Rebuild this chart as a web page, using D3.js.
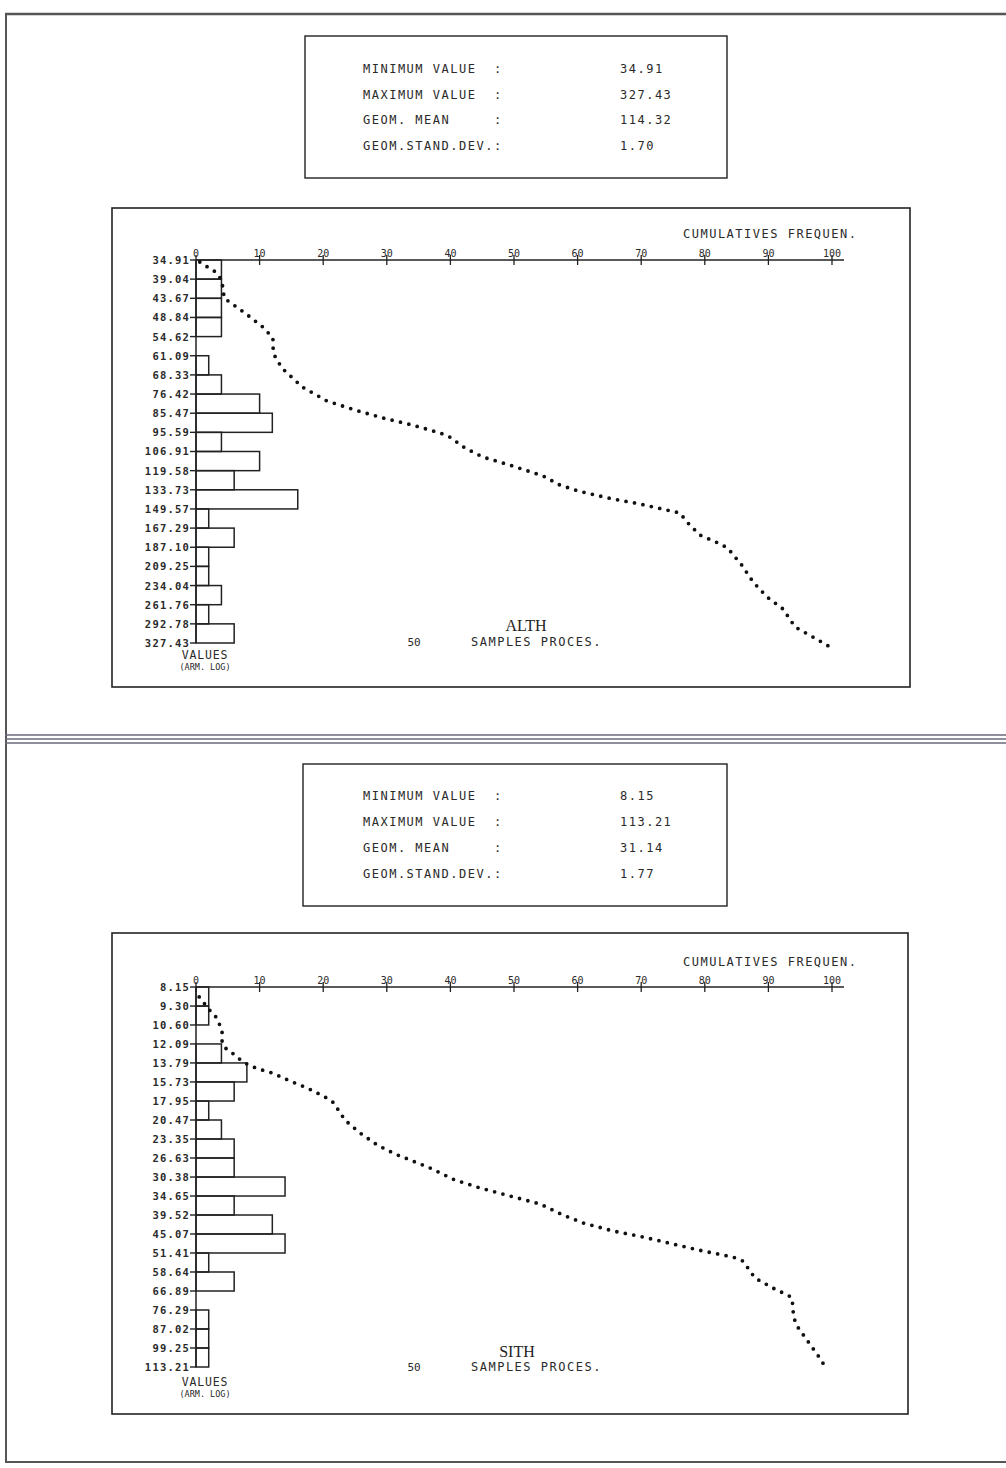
<!DOCTYPE html>
<html><head><meta charset="utf-8">
<script src="https://cdn.jsdelivr.net/npm/d3@7"></script>
<style>body{margin:0;background:#fff}</style>
</head><body>
<svg id="c" width="1006" height="1468"></svg>
<script>
// ---------- data ----------
const statLabels = ["MINIMUM VALUE", "MAXIMUM VALUE", "GEOM. MEAN", "GEOM.STAND.DEV."];
const althStats = ["34.91", "327.43", "114.32", "1.70"];
const sithStats = ["8.15", "113.21", "31.14", "1.77"];
const freqTicks = [0, 10, 20, 30, 40, 50, 60, 70, 80, 90, 100];
const sampleCount = 50;

const althClassLimits = [34.91, 39.04, 43.67, 48.84, 54.62, 61.09, 68.33, 76.42, 85.47, 95.59, 106.91, 119.58, 133.73, 149.57, 167.29, 187.10, 209.25, 234.04, 261.76, 292.78, 327.43];
const althCounts = [2, 2, 2, 2, 0, 1, 2, 5, 6, 2, 5, 3, 8, 1, 3, 1, 1, 2, 1, 3];
const althCumValues = [35.32, 35.95, 37.45, 39.01, 41.36, 43.59, 47.59, 51.64, 55.07, 58.05, 60.83, 65.63, 73.34, 79.59, 83.89, 87.90, 91.57, 95.96, 98.23, 104.75, 110.41, 116.37, 123.37, 130.04, 134.68, 140.30, 145.31, 153.15, 161.43, 174.17, 182.51, 187.92, 207.56, 229.25, 250.26, 268.44, 298.22, 316.16, 335.19];
const althCumPct = [0.6, 1.3, 3.1, 3.9, 4.3, 4.4, 7.7, 10.5, 12.1, 12.1, 12.3, 13.5, 16.7, 20.6, 25.0, 29.4, 34.0, 38.4, 39.9, 42.3, 45.1, 49.8, 54.6, 57.2, 60.1, 64.8, 69.8, 76.1, 77.2, 79.2, 82.1, 83.6, 85.8, 87.6, 89.8, 92.3, 94.2, 97.0, 99.7];

const sithClassLimits = [8.15, 9.30, 10.60, 12.09, 13.79, 15.73, 17.95, 20.47, 23.35, 26.63, 30.38, 34.65, 39.52, 45.07, 51.41, 58.64, 66.89, 76.29, 87.02, 99.25, 113.21];
const sithCounts = [1, 1, 0, 2, 4, 3, 1, 2, 3, 3, 7, 3, 6, 7, 1, 3, 0, 1, 1, 1];
const sithCumValues = [8.73, 9.76, 10.10, 11.05, 11.85, 12.43, 13.05, 13.70, 14.18, 14.48, 14.78, 15.63, 16.40, 17.46, 18.07, 19.37, 20.47, 22.40, 24.34, 25.90, 26.63, 28.54, 31.01, 32.78, 34.65, 36.62, 39.52, 41.77, 44.15, 46.02, 48.31, 50.70, 52.85, 54.34, 57.83, 61.13, 65.51, 69.72, 74.73, 79.53, 85.23, 95.88, 107.85, 114.79];
const sithCumPct = [0.5, 2.5, 3.3, 4.1, 4.1, 4.6, 6.1, 7.4, 9.0, 10.4, 12.0, 14.8, 17.5, 20.3, 21.5, 22.6, 23.4, 25.8, 28.5, 31.3, 32.9, 36.8, 40.7, 44.7, 49.4, 54.1, 57.7, 60.9, 65.6, 70.3, 75.0, 79.7, 84.4, 86.0, 87.0, 87.9, 90.7, 93.6, 93.9, 93.9, 94.5, 96.4, 98.3, 99.1];

// ---------- drawing ----------
const svg = d3.select("#c");
const INK = "#222";
const MONO = "'DejaVu Sans Mono', 'Liberation Mono', monospace";
svg.append("rect").attr("width", 1006).attr("height", 1468).attr("fill", "#fff");

// page frame (scan borders)
const pg = svg.append("g").attr("stroke", "#555").attr("fill", "none");
pg.append("line").attr("x1", 5).attr("x2", 1006).attr("y1", 14).attr("y2", 14).attr("stroke-width", 2.5);
pg.append("line").attr("x1", 6).attr("x2", 6).attr("y1", 13).attr("y2", 1463).attr("stroke-width", 2);
[735, 739, 743].forEach(y => pg.append("line").attr("x1", 5).attr("x2", 1006).attr("y1", y).attr("y2", y).attr("stroke-width", 1.4).attr("stroke", "#6a6a7a"));
pg.append("line").attr("x1", 5).attr("x2", 1006).attr("y1", 1462).attr("y2", 1462).attr("stroke-width", 2);

function panel(cfg) {
  const g = svg.append("g");
  // stats box
  g.append("rect").attr("x", cfg.box.x).attr("y", cfg.box.y).attr("width", cfg.box.w).attr("height", cfg.box.h)
    .attr("fill", "none").attr("stroke", INK).attr("stroke-width", 1.4);
  statLabels.forEach((lab, i) => {
    const y = cfg.statRows[i] + 4;
    const t = { "font-family": MONO, "font-size": "12px", "letter-spacing": "1.5px", fill: "#2a2a2a" };
    const a = g.append("text").attr("x", 363).attr("y", y).text(lab);
    const b = g.append("text").attr("x", 494).attr("y", y).text(":");
    const c = g.append("text").attr("x", 620).attr("y", y).text(cfg.stats[i]);
    [a, b, c].forEach(s => Object.entries(t).forEach(([k, v]) => s.attr(k, v)));
  });

  // chart frame
  g.append("rect").attr("x", cfg.frame.x).attr("y", cfg.frame.y).attr("width", cfg.frame.w).attr("height", cfg.frame.h)
    .attr("fill", "none").attr("stroke", INK).attr("stroke-width", 1.6);

  const lims = cfg.limits;
  const x = d3.scaleLinear().domain([0, 100]).range([196, 832]);
  const y = d3.scaleLog().domain([lims[0], lims[lims.length - 1]]).range([cfg.y0, cfg.y1]);
  const ay = cfg.y0;

  // top frequency axis
  g.append("line").attr("x1", x(0)).attr("x2", x(100) + 12).attr("y1", ay).attr("y2", ay)
    .attr("stroke", INK).attr("stroke-width", 1.5);
  freqTicks.forEach(t => {
    g.append("line").attr("x1", x(t)).attr("x2", x(t)).attr("y1", ay - 5).attr("y2", ay + 5)
      .attr("stroke", INK).attr("stroke-width", 1.3);
    g.append("text").attr("x", x(t)).attr("y", ay - 3).attr("text-anchor", "middle")
      .attr("font-family", MONO).attr("font-size", "10px").attr("fill", "#2a2a2a").text(t);
  });
  g.append("text").attr("x", 683).attr("y", cfg.cumLabelY).attr("font-family", MONO).attr("font-size", "12px")
    .attr("letter-spacing", "1.5px").attr("fill", "#2a2a2a").text("CUMULATIVES FREQUEN.");

  // histogram bars
  cfg.counts.forEach((c, i) => {
    if (c <= 0) return;
    g.append("rect").attr("x", x(0)).attr("y", y(lims[i]))
      .attr("width", x(c * 100 / sampleCount) - x(0)).attr("height", y(lims[i + 1]) - y(lims[i]))
      .attr("fill", "none").attr("stroke", INK).attr("stroke-width", 1.5);
  });
  // value axis
  g.append("line").attr("x1", x(0)).attr("x2", x(0)).attr("y1", ay).attr("y2", y(lims[lims.length - 1]))
    .attr("stroke", INK).attr("stroke-width", 1.5);
  const fmt = d3.format(".2f");
  lims.forEach(v => {
    g.append("line").attr("x1", x(0) - 6).attr("x2", x(0)).attr("y1", y(v)).attr("y2", y(v))
      .attr("stroke", INK).attr("stroke-width", 1.4);
    g.append("text").attr("x", x(0) - 6).attr("y", y(v) + 4).attr("text-anchor", "end")
      .attr("font-family", MONO).attr("font-size", "10.5px").attr("font-weight", "bold").attr("letter-spacing", "1.2px")
      .attr("fill", "#2a2a2a").text(fmt(v));
  });

  // cumulative frequency curve (dotted)
  const pts = cfg.cumValues.map((v, i) => [cfg.cumPct[i], v]);
  const line = d3.line().x(d => x(d[0])).y(d => y(d[1]));
  g.append("path").attr("d", line(pts)).attr("fill", "none").attr("stroke", "#111")
    .attr("stroke-width", 3.8).attr("stroke-linecap", "round").attr("stroke-dasharray", "0 8.6");

  // bottom texts
  g.append("text").attr("x", 205).attr("y", cfg.valuesY).attr("text-anchor", "middle")
    .attr("font-family", MONO).attr("font-size", "11.5px").attr("letter-spacing", "0.8px").attr("fill", "#2a2a2a").text("VALUES");
  g.append("text").attr("x", 205).attr("y", cfg.valuesY + 11).attr("text-anchor", "middle")
    .attr("font-family", MONO).attr("font-size", "8.5px").attr("fill", "#2a2a2a").text("(ARM. LOG)");
  g.append("text").attr("x", cfg.titleX).attr("y", cfg.titleY).attr("text-anchor", "middle")
    .attr("font-family", "'Liberation Serif', 'DejaVu Serif', serif").attr("font-size", "16px").attr("fill", "#222").text(cfg.title);
  g.append("text").attr("x", 414).attr("y", cfg.samplesY).attr("text-anchor", "middle")
    .attr("font-family", MONO).attr("font-size", "11px").attr("fill", "#2a2a2a").text(sampleCount);
  g.append("text").attr("x", 471).attr("y", cfg.samplesY).attr("font-family", MONO).attr("font-size", "12px")
    .attr("letter-spacing", "1.5px").attr("fill", "#2a2a2a").text("SAMPLES PROCES.");
}

panel({
  box: { x: 305, y: 36, w: 422, h: 142 }, statRows: [69, 95, 120, 146], stats: althStats,
  frame: { x: 112, y: 208, w: 798, h: 479 },
  limits: althClassLimits, counts: althCounts, cumValues: althCumValues, cumPct: althCumPct,
  y0: 260, y1: 643, cumLabelY: 238, title: "ALTH", titleX: 526, titleY: 631, samplesY: 646, valuesY: 659
});
panel({
  box: { x: 303, y: 764, w: 424, h: 142 }, statRows: [796, 822, 848, 874], stats: sithStats,
  frame: { x: 112, y: 933, w: 796, h: 481 },
  limits: sithClassLimits, counts: sithCounts, cumValues: sithCumValues, cumPct: sithCumPct,
  y0: 987, y1: 1367, cumLabelY: 966, title: "SITH", titleX: 517, titleY: 1357, samplesY: 1371, valuesY: 1386
});
</script>
</body></html>
